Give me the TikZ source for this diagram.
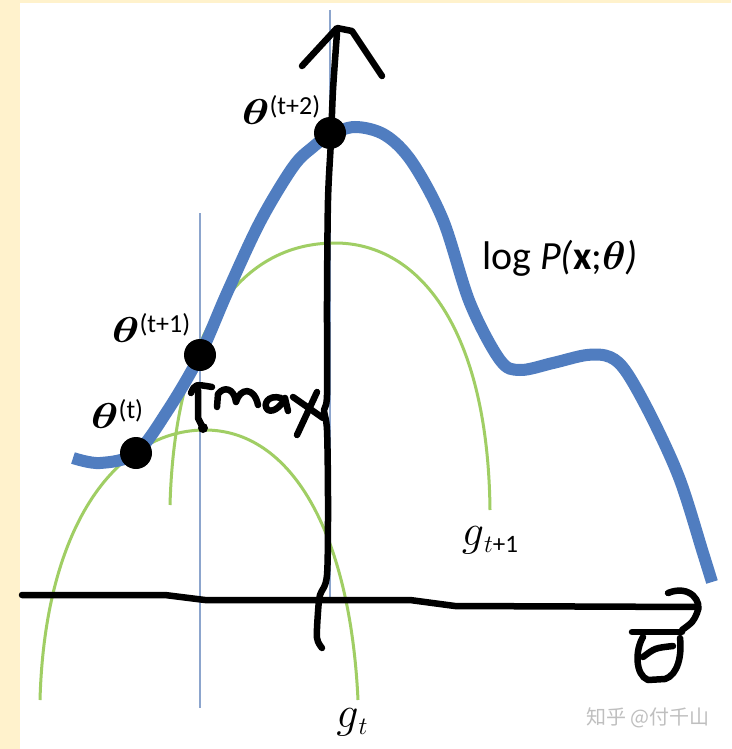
\RequirePackage{fix-cm}
\documentclass[tikz,border=0pt]{standalone}
\usepackage{amsmath}
\usepackage{bm}
\usepackage{graphicx}
\usepackage{fontspec}
\setmainfont{Carlito}
\newfontfamily\cjk{Noto Sans CJK SC}
\usepackage{tikz}
\definecolor{cream}{RGB}{255,242,204}
\definecolor{curveblue}{RGB}{80,125,192}
\definecolor{boundgreen}{RGB}{160,206,100}
\definecolor{guideblue}{RGB}{140,165,205}
\newcommand{\thetalab}[1]{{\fontsize{36}{36}\selectfont\scalebox{1.3}[1]{$\bm{\theta}$}}\raisebox{10pt}{\fontsize{26}{26}\selectfont(#1)}}
\newcommand{\glab}[1]{{\fontsize{44}{44}\selectfont$g$}\raisebox{-7pt}{\fontsize{25}{25}\selectfont#1}}

\begin{document}
\begin{tikzpicture}[x=1pt, y=-1pt,
    hand/.style={line width=6.5pt, line cap=round, line join=round},
    dot/.style={circle, fill=black, inner sep=0pt, minimum size=32pt},
    lbl/.style={inner sep=0pt}]
  \fill[cream] (0,0) rectangle (731,749);
  \fill[white] (20,3) rectangle (731,749);
  \useasboundingbox (0,0) rectangle (731,749);

  \draw[guideblue, line width=1.2pt] (200,213) -- (200,708);
  \draw[guideblue, line width=1.2pt] (330,10) -- (330,600);

  \draw[boundgreen, line width=3pt] (40,700) .. controls (45,520) and (120,430) .. (205,430)
    .. controls (290,430) and (350,530) .. (358,700);
  \draw[boundgreen, line width=3pt] (170,505) .. controls (175,330) and (240,243) .. (335,243)
    .. controls (420,243) and (488,330) .. (490,510);

  \draw[curveblue, line width=12pt] plot[smooth, tension=0.55] coordinates {
    (73,458) (100,463) (136,453) (168,410) (200,355) (227,293) (260,222) (293,167)
    (313,147) (330,135) (355,127) (385,135) (412,162) (443,220) (470,303) (500,360)
    (520,370) (553,363) (587,355) (610,357) (627,373) (653,420) (680,480) (703,553) (712,582)};

  \draw[hand] plot[smooth, tension=0.5] coordinates {
    (322,648) (317,638) (318,612) (320,595) (327,575) (328,500) (327,430) (324,410)
    (327,395) (327,300) (328,200) (331,140) (333,90) (337,33)};
  \draw[hand] (302,66) -- (337,28) -- (352,31) -- (382,76);

  \draw[hand] (22,595) -- (165,595) -- (205,600) -- (410,600) -- (455,606) -- (698,607);
  \draw[hand] (668,593) .. controls (690,584) and (703,602) .. (697,613)
    .. controls (693,622) .. (682,630);

  \draw[hand] (632,632) -- (682,632);
  \draw[hand] (680,638) .. controls (682,655) and (678,675) .. (665,679) -- (648,680)
    .. controls (635,675) and (635,650) .. (643,637);
  \draw[hand] (643,657) .. controls (655,648) .. (673,646);

  \draw[hand] (203,428) -- (198,418) -- (198,390);
  \draw[hand] (191,393) .. controls (195,384) .. (212,387);
  \fill (203,428) circle (5pt);
  \draw[hand] (217,407) -- (218,394) .. controls (224,386) and (234,388) .. (236,402)
    .. controls (240,388) and (254,386) .. (258,405);
  \draw[hand] (281,398) .. controls (268,394) and (262,405) .. (268,410)
    .. controls (274,413) and (282,405) .. (285,398) -- (288,411);
  \draw[hand] (293,397) -- (323,418);
  \draw[hand] (317,392) -- (297,435);

  \node[dot] (t0) at (136,453) {};
  \node[dot] (t1) at (200,355) {};
  \node[dot] (t2) at (330,133) {};

  \node[lbl] (l0) at (117,414) {\thetalab{t}};
  \node[lbl] (l1) at (151,328) {\thetalab{t+1}};
  \node[lbl] (l2) at (281,110) {\thetalab{t+2}};
  \node[lbl] (logp) at (560,258) {\fontsize{40}{40}\selectfont log \textit{P(}\textbf{x};$\bm{\theta}$\textit{)}};
  \node[lbl] (g1) at (490,540) {\glab{$t$+1}};
  \node[lbl] (g0) at (352,722) {\glab{$t$}};
  \node[lbl, text=black!25] (wm) at (648,718) {\cjk\fontsize{20}{20}\selectfont 知乎 @付千山};
\end{tikzpicture}
\end{document}
